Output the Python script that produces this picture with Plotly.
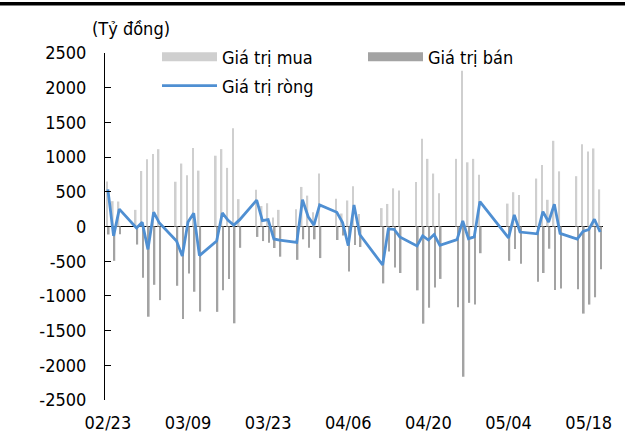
import plotly.graph_objects as go

# ---- data (2022 trading days) ----
dates = [
    "2022-02-23", "2022-02-24", "2022-02-25",
    "2022-02-28", "2022-03-01", "2022-03-02", "2022-03-03", "2022-03-04",
    "2022-03-07", "2022-03-08", "2022-03-09", "2022-03-10", "2022-03-11",
    "2022-03-14", "2022-03-15", "2022-03-16", "2022-03-17", "2022-03-18",
    "2022-03-21", "2022-03-22", "2022-03-23", "2022-03-24", "2022-03-25",
    "2022-03-28", "2022-03-29", "2022-03-30", "2022-03-31", "2022-04-01",
    "2022-04-04", "2022-04-05", "2022-04-06", "2022-04-07", "2022-04-08",
    "2022-04-12", "2022-04-13", "2022-04-14", "2022-04-15",
    "2022-04-18", "2022-04-19", "2022-04-20", "2022-04-21", "2022-04-22",
    "2022-04-25", "2022-04-26", "2022-04-27", "2022-04-28", "2022-04-29",
    "2022-05-04", "2022-05-05", "2022-05-06",
    "2022-05-09", "2022-05-10", "2022-05-11", "2022-05-12", "2022-05-13",
    "2022-05-16", "2022-05-17", "2022-05-18", "2022-05-19", "2022-05-20",
]

buy_values = [
    650, 365, 360,
    240, 800, 970, 1046, 1114,
    645, 907, 739, 1130, 805,
    1020, 1115, 845, 1415, 394,
    530, 295, 335, 130, 240,
    250, 570, 445, 205, 765,
    400, 187, 375, 580, 180,
    265, 325, 550, 520,
    640, 1265, 975, 763, 480,
    975, 2245, 925, 975, 745,
    330, 494, 455,
    691, 885, 385, 1235, 795,
    725, 1185, 1080, 1125, 535,
]

sell_values = [
    -115, -494, -110,
    -260, -740, -1300, -840, -1061,
    -854, -1334, -677, -940, -1225,
    -1230, -920, -755, -1395, -307,
    -150, -210, -235, -310, -435,
    -480, -185, -305, -185, -455,
    -195, -130, -650, -265, -295,
    -820, -360, -590, -670,
    -920, -1400, -1170, -878, -755,
    -1165, -2165, -1100, -1125, -385,
    -495, -326, -535,
    -797, -670, -320, -915, -895,
    -905, -1255, -1125, -1020, -615,
]

net_values = [
    535, -135, 250,
    -20, 60, -330, 206, 50,
    -210, -425, 64, 190, -420,
    -210, 195, 90, 20, 95,
    380, 85, 100, -180, -195,
    -230, 385, 140, 20, 310,
    205, 58, -275, 310, -115,
    -555, -35, -40, -150,
    -280, -135, -195, -115, -272,
    -190, 80, -175, -150, 360,
    -165, 168, -80,
    -105, 215, 65, 320, -100,
    -180, -70, -45, 105, -80,
]

x_label_dates = ["2022-02-23", "2022-03-09", "2022-03-23", "2022-04-06",
                 "2022-04-20", "2022-05-04", "2022-05-18"]
x_label_text = ["02/23", "03/09", "03/23", "04/06", "04/20", "05/04", "05/18"]
x_boundary_ticks = ["2022-02-22 12:00", "2022-03-08 12:00", "2022-03-22 12:00",
                    "2022-04-05 12:00", "2022-04-19 12:00", "2022-05-03 12:00",
                    "2022-05-17 12:00"]
x_range = ["2022-02-22 12:00", "2022-05-20 12:00"]

y_ticks = [2500, 2000, 1500, 1000, 500, 0, -500, -1000, -1500, -2000, -2500]
y_tick_text = ["2500", "2000", "1500", "1000", "500", "0", "-500", "-1000",
               "-1500", "-2000", "-2500"]

name_buy = "Giá trị mua"
name_sell = "Giá trị bán"
name_net = "Giá trị ròng"
unit_label = "(Tỷ đồng)"

# ---- styles ----
c_buy = "#cfcfcf"
c_sell = "#a3a3a3"
c_net = "#4f8fd2"
font_family = "DejaVu Sans Condensed, DejaVu Sans"
fs = 18

W, H = 625, 437
ml, mr, mt, mb = 105, 22, 53, 37
pw, ph = W - ml - mr, H - mt - mb


def px_x(p):
    return (p - ml) / pw


def px_y(p):
    return 1 - (p - mt) / ph


fig = go.Figure()
fig.add_bar(x=dates, y=buy_values, marker=dict(color=c_buy, line=dict(width=0)),
            showlegend=False, name=name_buy)
fig.add_bar(x=dates, y=sell_values, marker=dict(color=c_sell, line=dict(width=0)),
            showlegend=False, name=name_sell)
fig.add_scatter(x=dates, y=net_values, mode="lines", name=name_net,
                line=dict(color=c_net, width=2.8), legend="legend3")
# legend-only entries shaped like wide patches
fig.add_scatter(x=[None], y=[None], mode="lines", name=name_buy,
                line=dict(color=c_buy, width=9), legend="legend")
fig.add_scatter(x=[None], y=[None], mode="lines", name=name_sell,
                line=dict(color=c_sell, width=9), legend="legend2")

leg_common = dict(orientation="h", xanchor="left", yanchor="middle",
                  bgcolor="rgba(0,0,0,0)", itemwidth=55, borderwidth=0,
                  font=dict(family=font_family, size=fs))

fig.update_layout(
    width=W, height=H,
    margin=dict(l=ml, r=mr, t=mt, b=mb, pad=0, autoexpand=False),
    paper_bgcolor="white", plot_bgcolor="white",
    font=dict(family=font_family, size=fs, color="black"),
    barmode="group", bargap=0.42, bargroupgap=0,
    xaxis=dict(type="date", range=x_range, tickmode="array",
               tickvals=x_label_dates, ticktext=x_label_text,
               ticks="", showgrid=False, showline=False, zeroline=False,
               ticklabelstandoff=10),
    xaxis2=dict(type="date", range=x_range, overlaying="x", anchor="free",
                position=0.5, tickmode="array", tickvals=x_boundary_ticks,
                ticks="inside", ticklen=5, tickcolor="black", tickwidth=1,
                showticklabels=False, showgrid=False, showline=False,
                zeroline=False),
    yaxis=dict(range=[-2500, 2500], tickmode="array", tickvals=y_ticks,
               ticktext=y_tick_text, ticks="inside", ticklen=6,
               tickcolor="black", showline=True, linecolor="black",
               linewidth=1, showgrid=False, zeroline=True,
               zerolinecolor="black", zerolinewidth=1,
               ticklabelstandoff=14),
    legend=dict(x=px_x(157), y=px_y(57), **leg_common),
    legend2=dict(x=px_x(363), y=px_y(57), **leg_common),
    legend3=dict(x=px_x(157), y=px_y(86), **leg_common),
    shapes=[dict(type="rect", xref="paper", yref="paper", layer="above",
                 x0=px_x(0), x1=px_x(625), y0=px_y(5.5), y1=px_y(2),
                 fillcolor="black", line=dict(width=0))],
    annotations=[dict(text=unit_label, xref="paper", yref="paper",
                      x=px_x(131), y=px_y(28), xanchor="center",
                      yanchor="middle", showarrow=False,
                      font=dict(family=font_family, size=fs))],
)

fig.write_html(
    "out.html",
    config={"displayModeBar": False},
    post_script="document.body.style.margin='0px';document.body.style.padding='0px';",
)
